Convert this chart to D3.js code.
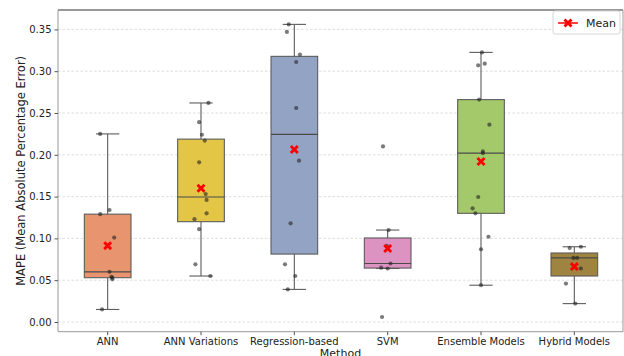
<!DOCTYPE html>
<html>
<head>
<meta charset="utf-8">
<script src="https://cdn.jsdelivr.net/npm/d3@7"></script>
<style>
  body { margin: 0; background: #fff; }
  text { font-family: "DejaVu Sans", sans-serif; fill: #222; }
</style>
</head>
<body>
<div id="chart"></div>
<script>
var width = 624;
var height = 356;

var methods = ["ANN", "ANN Variations", "Regression-based", "SVM", "Ensemble Models", "Hybrid Models"];
var colors = ["#e8956f", "#e3c646", "#93a3c3", "#dc93c2", "#a4c96a", "#9e8440"];

// MAPE values
var annVals = [0.225, 0.129, 0.134, 0.101, 0.060, 0.054, 0.053, 0.051, 0.015];
var annVarVals = [0.262, 0.239, 0.224, 0.217, 0.191, 0.153, 0.146, 0.130, 0.123, 0.111, 0.069, 0.055];
var regVals = [0.356, 0.347, 0.320, 0.311, 0.256, 0.193, 0.118, 0.069, 0.055, 0.039];
var svmVals = [0.210, 0.110, 0.091, 0.070, 0.065, 0.064, 0.006];
var ensVals = [0.3225, 0.307, 0.309, 0.266, 0.236, 0.204, 0.202, 0.1495, 0.136, 0.130, 0.102, 0.087, 0.044];
var hybVals = [0.0885, 0.090, 0.0766, 0.0766, 0.064, 0.046, 0.022];

// strip jitter, in category units
var annJit = [-0.08, -0.08, 0.02, 0.07, 0.02, 0.04, 0.05, 0.05, -0.06];
var annVarJit = [0.08, -0.02, 0.01, 0.04, -0.02, 0.05, 0.06, 0.06, -0.07, -0.02, -0.06, 0.10];
var regJit = [-0.06, -0.08, 0.06, 0.02, 0.02, 0.05, -0.04, -0.10, 0.01, -0.07];
var svmJit = [-0.05, 0.01, -0.01, 0.03, -0.07, 0.00, -0.06];
var ensJit = [0.01, -0.03, 0.04, -0.02, 0.09, 0.02, 0.02, -0.03, -0.09, -0.06, 0.08, 0.00, 0.00];
var hybJit = [-0.05, 0.07, -0.01, 0.03, 0.07, -0.09, 0.01];

var yTicks = [0, 0.05, 0.10, 0.15, 0.20, 0.25, 0.30, 0.35];

var allVals = [annVals, annVarVals, regVals, svmVals, ensVals, hybVals];
var allJit = [annJit, annVarJit, regJit, svmJit, ensJit, hybJit];

var pLeft = 58, pRight = 623, pTop = 10, pBottom = 331.7;

var xScale = d3.scaleBand()
    .domain(methods)
    .range([61, 621]);

var yScale = d3.scaleLinear()
    .domain([-0.0116, 0.3732])
    .range([pBottom, pTop]);

var svg = d3.select("#chart")
    .append("svg")
    .attr("width", width)
    .attr("height", height);

// grid
svg.selectAll("line.grid")
    .data(yTicks)
    .enter()
    .append("line")
    .attr("class", "grid")
    .attr("x1", pLeft)
    .attr("x2", pRight)
    .attr("y1", function(d) { return yScale(d); })
    .attr("y2", function(d) { return yScale(d); })
    .attr("stroke", "#d4d4d4")
    .attr("stroke-width", 0.8)
    .attr("stroke-dasharray", "2.5,2");

// box stats like seaborn / numpy
var stats = methods.map(function(m, i) {
    var v = allVals[i].slice().sort(d3.ascending);
    var q1 = d3.quantile(v, 0.25);
    var med = d3.quantile(v, 0.5);
    var q3 = d3.quantile(v, 0.75);
    var iqr = q3 - q1;
    var lo = d3.min(v.filter(function(d) { return d >= q1 - 1.5 * iqr; }));
    var hi = d3.max(v.filter(function(d) { return d <= q3 + 1.5 * iqr; }));
    return { method: m, color: colors[i], q1: q1, med: med, q3: q3, lo: lo, hi: hi, mean: d3.mean(v) };
});

var bw = xScale.bandwidth() * 0.5;
var capW = bw * 0.5;
var lineCol = "#5c5c5c";

var boxes = svg.selectAll("g.box")
    .data(stats)
    .enter()
    .append("g")
    .attr("class", "box")
    .attr("transform", function(d) { return "translate(" + (xScale(d.method) + xScale.bandwidth() / 2) + ",0)"; });

// whiskers
boxes.append("line")
    .attr("x1", 0).attr("x2", 0)
    .attr("y1", function(d) { return yScale(d.hi); })
    .attr("y2", function(d) { return yScale(d.q3); })
    .attr("stroke", lineCol).attr("stroke-width", 1.1);
boxes.append("line")
    .attr("x1", 0).attr("x2", 0)
    .attr("y1", function(d) { return yScale(d.q1); })
    .attr("y2", function(d) { return yScale(d.lo); })
    .attr("stroke", lineCol).attr("stroke-width", 1.1);
// caps
boxes.append("line")
    .attr("x1", -capW / 2).attr("x2", capW / 2)
    .attr("y1", function(d) { return yScale(d.hi); })
    .attr("y2", function(d) { return yScale(d.hi); })
    .attr("stroke", lineCol).attr("stroke-width", 1.1);
boxes.append("line")
    .attr("x1", -capW / 2).attr("x2", capW / 2)
    .attr("y1", function(d) { return yScale(d.lo); })
    .attr("y2", function(d) { return yScale(d.lo); })
    .attr("stroke", lineCol).attr("stroke-width", 1.1);
// box
boxes.append("rect")
    .attr("x", -bw / 2)
    .attr("width", bw)
    .attr("y", function(d) { return yScale(d.q3); })
    .attr("height", function(d) { return yScale(d.q1) - yScale(d.q3); })
    .attr("fill", function(d) { return d.color; })
    .attr("stroke", lineCol)
    .attr("stroke-width", 1.1);
// median
boxes.append("line")
    .attr("x1", -bw / 2).attr("x2", bw / 2)
    .attr("y1", function(d) { return yScale(d.med); })
    .attr("y2", function(d) { return yScale(d.med); })
    .attr("stroke", "#4a4a4a").attr("stroke-width", 1.2);

// strip points
var points = [];
methods.forEach(function(m, i) {
    allVals[i].forEach(function(v, j) {
        points.push({ method: m, value: v, jit: allJit[i][j] });
    });
});

svg.selectAll("circle.pt")
    .data(points)
    .enter()
    .append("circle")
    .attr("class", "pt")
    .attr("cx", function(d) { return xScale(d.method) + xScale.bandwidth() * (0.5 + d.jit); })
    .attr("cy", function(d) { return yScale(d.value); })
    .attr("r", 2.1)
    .attr("fill", "#222")
    .attr("opacity", 0.6);

// filled X marker like matplotlib 'X'
var fatX = {
    draw: function(ctx, size) {
        var r = Math.sqrt(size) / 2;
        var t = r * 0.45;
        ctx.moveTo(-r, -r + t);
        ctx.lineTo(-r + t, -r);
        ctx.lineTo(0, -t);
        ctx.lineTo(r - t, -r);
        ctx.lineTo(r, -r + t);
        ctx.lineTo(t, 0);
        ctx.lineTo(r, r - t);
        ctx.lineTo(r - t, r);
        ctx.lineTo(0, t);
        ctx.lineTo(-r + t, r);
        ctx.lineTo(-r, r - t);
        ctx.lineTo(-t, 0);
        ctx.closePath();
    }
};
var markX = d3.symbol().type(fatX).size(81);

svg.selectAll("path.mean")
    .data(stats)
    .enter()
    .append("path")
    .attr("class", "mean")
    .attr("d", markX)
    .attr("transform", function(d) {
        return "translate(" + (xScale(d.method) + xScale.bandwidth() / 2) + "," + yScale(d.mean) + ")";
    })
    .attr("fill", "#ff0000");

// spines
svg.append("line").attr("x1", pLeft).attr("x2", pRight).attr("y1", pTop).attr("y2", pTop)
    .attr("stroke", "#333").attr("stroke-width", 1);
svg.append("line").attr("x1", pLeft).attr("x2", pLeft).attr("y1", pTop).attr("y2", pBottom)
    .attr("stroke", "#999").attr("stroke-width", 1);
svg.append("line").attr("x1", pLeft).attr("x2", pRight).attr("y1", pBottom).attr("y2", pBottom)
    .attr("stroke", "#999").attr("stroke-width", 1);
svg.append("line").attr("x1", pRight).attr("x2", pRight).attr("y1", pTop).attr("y2", pBottom)
    .attr("stroke", "#999").attr("stroke-width", 1);

// axes
var yAxis = d3.axisLeft(yScale)
    .tickValues(yTicks)
    .tickFormat(d3.format(".2f"))
    .tickSize(3.5)
    .tickPadding(3);
var gy = svg.append("g")
    .attr("transform", "translate(" + pLeft + ",0)")
    .call(yAxis);
gy.select(".domain").remove();
gy.selectAll("line").attr("stroke", "#555");
gy.selectAll("text").style("font-size", "10px").attr("fill", "#222");

var xAxis = d3.axisBottom(xScale)
    .tickSize(3.5)
    .tickPadding(3);
var gx = svg.append("g")
    .attr("transform", "translate(0," + pBottom + ")")
    .call(xAxis);
gx.select(".domain").remove();
gx.selectAll("line").attr("stroke", "#555");
gx.selectAll("text").style("font-size", "10px").attr("fill", "#222");

// axis labels
svg.append("text")
    .attr("transform", "translate(25," + ((pTop + pBottom) / 2) + ") rotate(-90)")
    .attr("text-anchor", "middle")
    .style("font-size", "11.5px")
    .text("MAPE (Mean Absolute Percentage Error)");

svg.append("text")
    .attr("x", (pLeft + pRight) / 2)
    .attr("y", 357)
    .attr("text-anchor", "middle")
    .style("font-size", "11px")
    .text("Method");

// legend
var lg = svg.append("g").attr("transform", "translate(553,11)");
lg.append("rect")
    .attr("width", 67).attr("height", 23).attr("rx", 2)
    .attr("fill", "#fff").attr("stroke", "#d6d6d6").attr("stroke-width", 1);
lg.append("line")
    .attr("x1", 5).attr("x2", 25).attr("y1", 12).attr("y2", 12)
    .attr("stroke", "#ff0000").attr("stroke-width", 1.5);
lg.append("path")
    .attr("d", markX)
    .attr("transform", "translate(15,12)")
    .attr("fill", "#ff0000");
lg.append("text")
    .attr("x", 33).attr("y", 16)
    .style("font-size", "11px")
    .text("Mean");
</script>
</body>
</html>
